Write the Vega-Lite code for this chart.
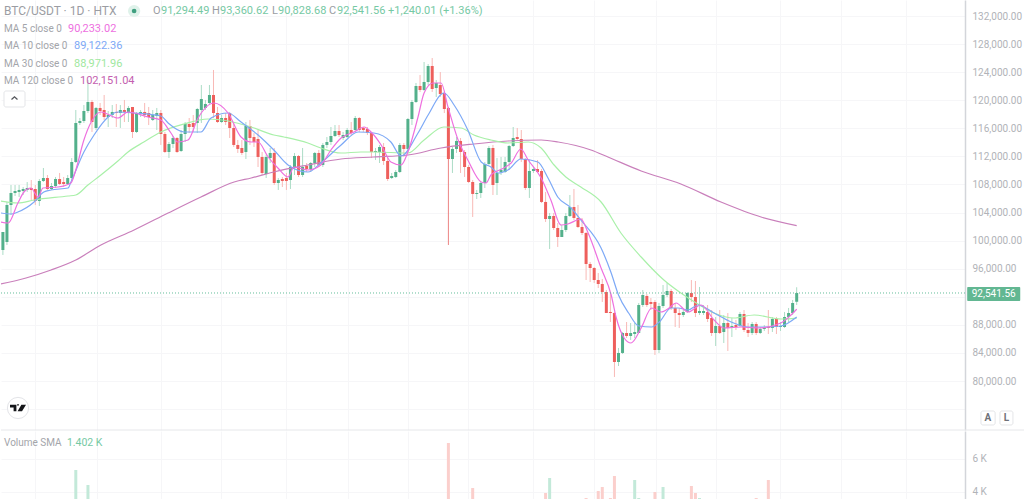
{
"$schema":"https://vega.github.io/schema/vega-lite/v6.json",
"description":"BTC/USDT daily candles with moving averages and volume",
"padding":0,
"spacing":0,
"background":"white",
"resolve":{"scale":{"color":"independent"}},
"config":{"view":{"stroke":null},"text":{"font":"Roboto"},"axis":{"labelFont":"Roboto"}},
"datasets":{
"candles":[
{"t":0,"o":98670,"h":101230,"l":97960,"c":101230},{"t":1,"o":99810,"h":105510,"l":99380,"c":105080},{"t":2,"o":105080,"h":107930,"l":103650,"c":106790},{"t":3,"o":106790,"h":107930,"l":106360,"c":107070},{"t":4,"o":106930,"h":107930,"l":106220,"c":107220},{"t":5,"o":107070,"h":107640,"l":106500,"c":107360},{"t":6,"o":107220,"h":108350,"l":106930,"c":107500},{"t":7,"o":107500,"h":108640,"l":105790,"c":107220},{"t":8,"o":107360,"h":107930,"l":105080,"c":105650},{"t":9,"o":105650,"h":108780,"l":104940,"c":108500},
{"t":10,"o":108500,"h":110350,"l":108350,"c":108920},{"t":11,"o":108920,"h":109350,"l":107220,"c":107360},{"t":12,"o":107360,"h":108210,"l":107220,"c":107780},{"t":13,"o":107780,"h":109070,"l":107500,"c":108780},{"t":14,"o":108780,"h":109640,"l":107930,"c":108070},{"t":15,"o":108350,"h":109070,"l":107640,"c":108070},{"t":16,"o":108070,"h":109350,"l":107930,"c":108920},{"t":17,"o":108920,"h":111770,"l":108640,"c":111200},{"t":18,"o":111200,"h":118610,"l":111060,"c":116760},{"t":19,"o":116760,"h":117470,"l":116470,"c":117040},
{"t":20,"o":117040,"h":119320,"l":116760,"c":118470},{"t":21,"o":118470,"h":122880,"l":118180,"c":119750},{"t":22,"o":119750,"h":120040,"l":115480,"c":116900},{"t":23,"o":116050,"h":119040,"l":115760,"c":118900},{"t":24,"o":118900,"h":119610,"l":117900,"c":118470},{"t":25,"o":118610,"h":120750,"l":117190,"c":117610},{"t":26,"o":117610,"h":118470,"l":116190,"c":117900},{"t":27,"o":117900,"h":119320,"l":117470,"c":118330},{"t":28,"o":118330,"h":119470,"l":116190,"c":118180},{"t":29,"o":118180,"h":119320,"l":116050,"c":118610},
{"t":30,"o":118610,"h":120040,"l":116900,"c":118330},{"t":31,"o":118330,"h":119180,"l":116900,"c":118900},{"t":32,"o":119040,"h":119040,"l":114620,"c":115480},{"t":33,"o":115480,"h":118330,"l":115330,"c":118180},{"t":34,"o":118040,"h":118610,"l":117610,"c":118330},{"t":35,"o":118330,"h":119610,"l":117470,"c":117900},{"t":36,"o":118180,"h":119040,"l":116470,"c":117610},{"t":37,"o":117190,"h":118610,"l":117040,"c":117900},{"t":38,"o":117760,"h":118900,"l":115760,"c":118180},{"t":39,"o":118180,"h":118610,"l":113630,"c":115190},
{"t":40,"o":115190,"h":115480,"l":112490,"c":112630},{"t":41,"o":112630,"h":114050,"l":111770,"c":113770},{"t":42,"o":113770,"h":114910,"l":113200,"c":114620},{"t":43,"o":114620,"h":114760,"l":112490,"c":112630},{"t":44,"o":112770,"h":115760,"l":112630,"c":115190},{"t":45,"o":115190,"h":116900,"l":114050,"c":116620},{"t":46,"o":116620,"h":117470,"l":115330,"c":116190},{"t":47,"o":116760,"h":117900,"l":115480,"c":116190},{"t":48,"o":116760,"h":118900,"l":115330,"c":118750},{"t":49,"o":118610,"h":122170,"l":116760,"c":120180},
{"t":50,"o":118900,"h":120040,"l":118610,"c":119470},{"t":51,"o":119610,"h":122170,"l":119320,"c":120750},{"t":52,"o":120750,"h":124310,"l":117470,"c":118180},{"t":53,"o":118180,"h":119040,"l":116760,"c":116900},{"t":54,"o":116900,"h":117900,"l":116760,"c":117470},{"t":55,"o":117470,"h":118180,"l":116470,"c":116900},{"t":56,"o":118180,"h":118330,"l":114620,"c":116050},{"t":57,"o":116050,"h":116760,"l":113340,"c":113630},{"t":58,"o":113630,"h":114340,"l":112490,"c":113060},{"t":59,"o":113200,"h":114340,"l":112200,"c":112490},
{"t":60,"o":112630,"h":116900,"l":111630,"c":116330},{"t":61,"o":116330,"h":117190,"l":113630,"c":114620},{"t":62,"o":114760,"h":115330,"l":113340,"c":114050},{"t":63,"o":114480,"h":115760,"l":110490,"c":111920},{"t":64,"o":111920,"h":112630,"l":109350,"c":109640},{"t":65,"o":109490,"h":112200,"l":108920,"c":111920},{"t":66,"o":111770,"h":113200,"l":111060,"c":112490},{"t":67,"o":112490,"h":113200,"l":107930,"c":108210},{"t":68,"o":108210,"h":108920,"l":107220,"c":108640},{"t":69,"o":108780,"h":109070,"l":107640,"c":108500},
{"t":70,"o":108920,"h":109640,"l":107220,"c":108500},{"t":71,"o":108640,"h":110780,"l":107360,"c":110490},{"t":72,"o":110490,"h":112490,"l":109350,"c":112060},{"t":73,"o":112060,"h":112200,"l":109070,"c":109350},{"t":74,"o":109350,"h":113200,"l":109070,"c":110490},{"t":75,"o":110630,"h":111060,"l":109780,"c":110210},{"t":76,"o":110210,"h":111200,"l":109780,"c":111060},{"t":77,"o":111060,"h":112630,"l":110490,"c":112490},{"t":78,"o":112490,"h":112910,"l":110490,"c":110780},{"t":79,"o":110780,"h":113910,"l":110490,"c":113630},
{"t":80,"o":113630,"h":114760,"l":113200,"c":114050},{"t":81,"o":114050,"h":116190,"l":113630,"c":114910},{"t":82,"o":114910,"h":116470,"l":114760,"c":115620},{"t":83,"o":115620,"h":116470,"l":114760,"c":115050},{"t":84,"o":114620,"h":115480,"l":114340,"c":115050},{"t":85,"o":114760,"h":116050,"l":114620,"c":115760},{"t":86,"o":115760,"h":116900,"l":115050,"c":115330},{"t":87,"o":115760,"h":117760,"l":115480,"c":117470},{"t":88,"o":117470,"h":117610,"l":115480,"c":115760},{"t":89,"o":116050,"h":116190,"l":115480,"c":115760},
{"t":90,"o":115900,"h":116190,"l":115050,"c":115330},{"t":91,"o":115330,"h":115480,"l":111770,"c":112630},{"t":92,"o":112630,"h":113200,"l":111490,"c":112770},{"t":93,"o":112630,"h":113630,"l":111060,"c":113340},{"t":94,"o":113340,"h":113910,"l":110780,"c":111350},{"t":95,"o":111350,"h":111770,"l":108500,"c":108780},{"t":96,"o":108920,"h":109640,"l":108780,"c":109210},{"t":97,"o":109070,"h":110060,"l":108920,"c":109780},{"t":98,"o":109780,"h":113910,"l":109640,"c":113630},{"t":99,"o":113630,"h":113910,"l":111920,"c":113060},
{"t":100,"o":113060,"h":117470,"l":112630,"c":117330},{"t":101,"o":117330,"h":120040,"l":116470,"c":119750},{"t":102,"o":119750,"h":122460,"l":119610,"c":122030},{"t":103,"o":122030,"h":123600,"l":121180,"c":121460},{"t":104,"o":121460,"h":125450,"l":121320,"c":122600},{"t":105,"o":122600,"h":125160,"l":122170,"c":124880},{"t":106,"o":124880,"h":126020,"l":121180,"c":121600},{"t":107,"o":121740,"h":122880,"l":120460,"c":122460},{"t":108,"o":122170,"h":124020,"l":120460,"c":120890},{"t":109,"o":121030,"h":121180,"l":118180,"c":118750},
{"t":110,"o":118900,"h":119040,"l":99380,"c":111630},{"t":111,"o":111630,"h":113340,"l":109640,"c":113060},{"t":112,"o":113060,"h":114760,"l":112490,"c":114200},{"t":113,"o":114200,"h":114620,"l":109640,"c":112630},{"t":114,"o":112630,"h":112910,"l":109070,"c":110490},{"t":115,"o":110490,"h":110780,"l":108210,"c":108350},{"t":116,"o":108350,"h":108640,"l":103370,"c":106650},{"t":117,"o":106650,"h":107220,"l":105930,"c":106790},{"t":118,"o":106790,"h":108350,"l":106080,"c":108210},{"t":119,"o":108210,"h":111200,"l":107500,"c":110920},
{"t":120,"o":110920,"h":113480,"l":110780,"c":113200},{"t":121,"o":113200,"h":113630,"l":106500,"c":107930},{"t":122,"o":108210,"h":111770,"l":106500,"c":109640},{"t":123,"o":109780,"h":111920,"l":109350,"c":110060},{"t":124,"o":109780,"h":111920,"l":109640,"c":111200},{"t":125,"o":111200,"h":113630,"l":110060,"c":113480},{"t":126,"o":113480,"h":116190,"l":113340,"c":114620},{"t":127,"o":114760,"h":116050,"l":114340,"c":114480},{"t":128,"o":114480,"h":115760,"l":111200,"c":111630},{"t":129,"o":111630,"h":111770,"l":107220,"c":107500},
{"t":130,"o":107500,"h":111490,"l":106080,"c":109920},{"t":131,"o":109920,"h":110490,"l":109640,"c":110210},{"t":132,"o":110210,"h":111490,"l":109640,"c":109780},{"t":133,"o":109920,"h":110210,"l":105360,"c":105510},{"t":134,"o":105510,"h":106930,"l":102660,"c":103080},{"t":135,"o":103080,"h":103940,"l":98810,"c":103510},{"t":136,"o":103510,"h":103940,"l":101520,"c":101800},{"t":137,"o":101800,"h":102510,"l":99100,"c":100520},{"t":138,"o":100520,"h":102230,"l":100520,"c":101520},{"t":139,"o":101520,"h":103940,"l":101230,"c":103510},
{"t":140,"o":103510,"h":106500,"l":103370,"c":104790},{"t":141,"o":104790,"h":107360,"l":102940,"c":103230},{"t":142,"o":103230,"h":105080,"l":101800,"c":101940},{"t":143,"o":101940,"h":103230,"l":100800,"c":101090},{"t":144,"o":101090,"h":101230,"l":94390,"c":96670},{"t":145,"o":96670,"h":96960,"l":94110,"c":96100},{"t":146,"o":96100,"h":96240,"l":93970,"c":94390},{"t":147,"o":94390,"h":95390,"l":93250,"c":93820},{"t":148,"o":93820,"h":94540,"l":91260,"c":92680},{"t":149,"o":92680,"h":92970,"l":89690,"c":89690},
{"t":150,"o":89840,"h":92680,"l":88410,"c":89690},{"t":151,"o":89690,"h":89840,"l":80580,"c":82710},{"t":152,"o":82710,"h":84710,"l":82140,"c":84000},{"t":153,"o":84000,"h":86990,"l":83850,"c":86840},{"t":154,"o":86840,"h":88410,"l":86130,"c":86420},{"t":155,"o":86420,"h":88270,"l":85850,"c":86840},{"t":156,"o":86700,"h":88270,"l":86130,"c":86990},{"t":157,"o":86840,"h":91120,"l":86840,"c":90830},{"t":158,"o":90830,"h":92970,"l":90550,"c":92260},{"t":159,"o":92120,"h":92400,"l":90550,"c":90830},
{"t":160,"o":91260,"h":91830,"l":90120,"c":90980},{"t":161,"o":91260,"h":91550,"l":83710,"c":84420},{"t":162,"o":84420,"h":91120,"l":84000,"c":90690},{"t":163,"o":90690,"h":93680,"l":90410,"c":92260},{"t":164,"o":92260,"h":93970,"l":91970,"c":92830},{"t":165,"o":92830,"h":93110,"l":90120,"c":90410},{"t":166,"o":90410,"h":91120,"l":87700,"c":89690},{"t":167,"o":89690,"h":90410,"l":87560,"c":89410},{"t":168,"o":89410,"h":90120,"l":89120,"c":89840},{"t":169,"o":89840,"h":92680,"l":89690,"c":92540},
{"t":170,"o":92540,"h":94390,"l":91260,"c":91970},{"t":171,"o":91970,"h":94250,"l":89120,"c":89690},{"t":172,"o":89690,"h":93400,"l":89410,"c":89980},{"t":173,"o":89690,"h":90830,"l":89410,"c":89980},{"t":174,"o":89840,"h":90830,"l":88410,"c":88840},{"t":175,"o":88980,"h":90120,"l":86420,"c":86840},{"t":176,"o":86840,"h":89120,"l":84990,"c":87840},{"t":177,"o":87840,"h":90120,"l":86700,"c":86840},{"t":178,"o":86990,"h":89410,"l":85420,"c":88270},{"t":179,"o":88270,"h":89690,"l":84280,"c":87560},
{"t":180,"o":87700,"h":88980,"l":86270,"c":87840},{"t":181,"o":87980,"h":88700,"l":87270,"c":87700},{"t":182,"o":87840,"h":89840,"l":87700,"c":89550},{"t":183,"o":89550,"h":90120,"l":86990,"c":87270},{"t":184,"o":87270,"h":88270,"l":86270,"c":86840},{"t":185,"o":86840,"h":88410,"l":86560,"c":88130},{"t":186,"o":88130,"h":88410,"l":86560,"c":86840},{"t":187,"o":86840,"h":87700,"l":86700,"c":87410},{"t":188,"o":87410,"h":87980,"l":87130,"c":87700},{"t":189,"o":87700,"h":90120,"l":86700,"c":87560},
{"t":190,"o":87560,"h":89120,"l":86990,"c":88840},{"t":191,"o":88840,"h":89120,"l":86700,"c":87700},{"t":192,"o":87700,"h":88410,"l":87130,"c":87840},{"t":193,"o":87700,"h":89840,"l":87560,"c":89120},{"t":194,"o":89120,"h":90410,"l":88410,"c":89690},{"t":195,"o":89690,"h":91550,"l":89410,"c":91120},{"t":196,"o":91294,"h":93361,"l":90829,"c":92542}
],
"ma":[
{"t":-0.5,"ma":"MA 120","v":93824},{"t":5.7,"ma":"MA 120","v":94679},{"t":11.9,"ma":"MA 120","v":95819},{"t":18,"ma":"MA 120","v":97243},{"t":24.2,"ma":"MA 120","v":99380},{"t":32.4,"ma":"MA 120","v":101517},{"t":40.8,"ma":"MA 120","v":103938},{"t":48.9,"ma":"MA 120","v":106217},{"t":57.1,"ma":"MA 120","v":108354},{"t":61.3,"ma":"MA 120","v":108924},{"t":66.9,"ma":"MA 120","v":109779},{"t":75.3,"ma":"MA 120","v":110776},{"t":83.5,"ma":"MA 120","v":111630},{"t":91.6,"ma":"MA 120","v":111916},{"t":100,"ma":"MA 120","v":112200},{"t":108.2,"ma":"MA 120","v":113198},{"t":116.3,"ma":"MA 120","v":113767},{"t":124.7,"ma":"MA 120","v":114195},{"t":132.9,"ma":"MA 120","v":114337},{"t":137.1,"ma":"MA 120","v":114052},{"t":145.2,"ma":"MA 120","v":112913},{"t":149.4,"ma":"MA 120","v":111916},{"t":157.6,"ma":"MA 120","v":109921},{"t":167.4,"ma":"MA 120","v":108069},{"t":177.3,"ma":"MA 120","v":105505},{"t":187.2,"ma":"MA 120","v":103368},{"t":196,"ma":"MA 120","v":102151},
{"t":-0.5,"ma":"MA 30","v":105648},{"t":3.7,"ma":"MA 30","v":105363},{"t":7.7,"ma":"MA 30","v":105790},{"t":16.1,"ma":"MA 30","v":106360},{"t":18,"ma":"MA 30","v":106502},{"t":21,"ma":"MA 30","v":107927},{"t":24.2,"ma":"MA 30","v":109351},{"t":28.4,"ma":"MA 30","v":111346},{"t":30.9,"ma":"MA 30","v":112628},{"t":34.8,"ma":"MA 30","v":114052},{"t":39,"ma":"MA 30","v":115477},{"t":44.7,"ma":"MA 30","v":116616},{"t":50.6,"ma":"MA 30","v":117328},{"t":55.6,"ma":"MA 30","v":117043},{"t":61.3,"ma":"MA 30","v":116189},{"t":66.9,"ma":"MA 30","v":115049},{"t":69.4,"ma":"MA 30","v":114764},{"t":75.3,"ma":"MA 30","v":113910},{"t":78.5,"ma":"MA 30","v":113198},{"t":83.5,"ma":"MA 30","v":112485},{"t":88.4,"ma":"MA 30","v":112628},{"t":91.6,"ma":"MA 30","v":112628},{"t":100,"ma":"MA 30","v":112485},{"t":104,"ma":"MA 30","v":114337},{"t":108.9,"ma":"MA 30","v":116189},{"t":113.1,"ma":"MA 30","v":116046},{"t":116.3,"ma":"MA 30","v":115049},{"t":120.5,"ma":"MA 30","v":114337},{"t":124.7,"ma":"MA 30","v":113910},{"t":129.7,"ma":"MA 30","v":114052},{"t":132.9,"ma":"MA 30","v":113198},{"t":136.1,"ma":"MA 30","v":110776},{"t":139,"ma":"MA 30","v":109066},{"t":142.7,"ma":"MA 30","v":107642},{"t":147.7,"ma":"MA 30","v":105505},{"t":152.6,"ma":"MA 30","v":101089},{"t":157.6,"ma":"MA 30","v":97670},{"t":163.2,"ma":"MA 30","v":94394},{"t":167.4,"ma":"MA 30","v":92542},{"t":171.6,"ma":"MA 30","v":90975},{"t":175.6,"ma":"MA 30","v":89693},{"t":180.5,"ma":"MA 30","v":88981},{"t":185.5,"ma":"MA 30","v":89408},{"t":192.1,"ma":"MA 30","v":88838},{"t":196,"ma":"MA 30","v":88972},
{"t":-0.5,"ma":"MA 10","v":103938},{"t":2,"ma":"MA 10","v":103796},{"t":3.7,"ma":"MA 10","v":104081},{"t":7.7,"ma":"MA 10","v":105505},{"t":10.1,"ma":"MA 10","v":106930},{"t":11.9,"ma":"MA 10","v":107215},{"t":16.1,"ma":"MA 10","v":107499},{"t":16.8,"ma":"MA 10","v":108354},{"t":20,"ma":"MA 10","v":112628},{"t":22.5,"ma":"MA 10","v":115049},{"t":26,"ma":"MA 10","v":117613},{"t":28.4,"ma":"MA 10","v":118326},{"t":32.4,"ma":"MA 10","v":118183},{"t":39,"ma":"MA 10","v":117756},{"t":40.8,"ma":"MA 10","v":116758},{"t":44.7,"ma":"MA 10","v":115477},{"t":48.9,"ma":"MA 10","v":115477},{"t":51.4,"ma":"MA 10","v":117471},{"t":55.6,"ma":"MA 10","v":118183},{"t":58.8,"ma":"MA 10","v":116901},{"t":63,"ma":"MA 10","v":115049},{"t":66.9,"ma":"MA 10","v":112913},{"t":70.4,"ma":"MA 10","v":110776},{"t":75.3,"ma":"MA 10","v":109779},{"t":78.5,"ma":"MA 10","v":111061},{"t":83.5,"ma":"MA 10","v":113625},{"t":87.7,"ma":"MA 10","v":115477},{"t":91.6,"ma":"MA 10","v":115334},{"t":95.8,"ma":"MA 10","v":114052},{"t":98.3,"ma":"MA 10","v":112058},{"t":102.5,"ma":"MA 10","v":115334},{"t":105,"ma":"MA 10","v":117898},{"t":108.9,"ma":"MA 10","v":121032},{"t":111.4,"ma":"MA 10","v":119323},{"t":114.8,"ma":"MA 10","v":115762},{"t":118.1,"ma":"MA 10","v":111203},{"t":120.5,"ma":"MA 10","v":110491},{"t":122.3,"ma":"MA 10","v":109636},{"t":124.7,"ma":"MA 10","v":110064},{"t":127.9,"ma":"MA 10","v":111631},{"t":132.1,"ma":"MA 10","v":111203},{"t":134.6,"ma":"MA 10","v":108924},{"t":137,"ma":"MA 10","v":106217},{"t":140.3,"ma":"MA 10","v":104650},{"t":142.7,"ma":"MA 10","v":102941},{"t":147.7,"ma":"MA 10","v":98953},{"t":150.2,"ma":"MA 10","v":95391},{"t":152,"ma":"MA 10","v":92257},{"t":154.5,"ma":"MA 10","v":89693},{"t":157,"ma":"MA 10","v":87841},{"t":160.2,"ma":"MA 10","v":87699},{"t":162.1,"ma":"MA 10","v":88411},{"t":165,"ma":"MA 10","v":90405},{"t":166.7,"ma":"MA 10","v":90405},{"t":169.2,"ma":"MA 10","v":90121},{"t":171.6,"ma":"MA 10","v":90833},{"t":175.6,"ma":"MA 10","v":89693},{"t":179.8,"ma":"MA 10","v":88411},{"t":184,"ma":"MA 10","v":87699},{"t":188,"ma":"MA 10","v":87699},{"t":192.1,"ma":"MA 10","v":87841},{"t":196,"ma":"MA 10","v":89122},
{"t":-0.5,"ma":"MA 5","v":102656},{"t":1.3,"ma":"MA 5","v":102514},{"t":3.7,"ma":"MA 5","v":105363},{"t":5.2,"ma":"MA 5","v":106930},{"t":6.9,"ma":"MA 5","v":107499},{"t":8.7,"ma":"MA 5","v":106217},{"t":9.9,"ma":"MA 5","v":107499},{"t":13.6,"ma":"MA 5","v":107642},{"t":16.8,"ma":"MA 5","v":108212},{"t":18,"ma":"MA 5","v":110064},{"t":20,"ma":"MA 5","v":114337},{"t":21.8,"ma":"MA 5","v":116901},{"t":24.2,"ma":"MA 5","v":118326},{"t":28.4,"ma":"MA 5","v":117471},{"t":30.9,"ma":"MA 5","v":118326},{"t":35.8,"ma":"MA 5","v":117613},{"t":39,"ma":"MA 5","v":117186},{"t":41.5,"ma":"MA 5","v":115334},{"t":43.2,"ma":"MA 5","v":114052},{"t":45.7,"ma":"MA 5","v":114337},{"t":48.2,"ma":"MA 5","v":117471},{"t":52.1,"ma":"MA 5","v":119608},{"t":55.6,"ma":"MA 5","v":118183},{"t":58.8,"ma":"MA 5","v":114764},{"t":61.3,"ma":"MA 5","v":114052},{"t":63,"ma":"MA 5","v":114052},{"t":65.5,"ma":"MA 5","v":111916},{"t":67.9,"ma":"MA 5","v":110348},{"t":70.4,"ma":"MA 5","v":109066},{"t":71.9,"ma":"MA 5","v":110491},{"t":75.3,"ma":"MA 5","v":110064},{"t":78.5,"ma":"MA 5","v":110776},{"t":81,"ma":"MA 5","v":112913},{"t":83.5,"ma":"MA 5","v":114622},{"t":86.7,"ma":"MA 5","v":115477},{"t":89.2,"ma":"MA 5","v":116189},{"t":90.9,"ma":"MA 5","v":115477},{"t":93.4,"ma":"MA 5","v":113625},{"t":95.8,"ma":"MA 5","v":111203},{"t":98.3,"ma":"MA 5","v":110776},{"t":100,"ma":"MA 5","v":112628},{"t":102.5,"ma":"MA 5","v":117613},{"t":104,"ma":"MA 5","v":121032},{"t":106.2,"ma":"MA 5","v":122456},{"t":108.2,"ma":"MA 5","v":122456},{"t":109.9,"ma":"MA 5","v":119038},{"t":112.4,"ma":"MA 5","v":114337},{"t":114.8,"ma":"MA 5","v":111488},{"t":118.1,"ma":"MA 5","v":108354},{"t":119.3,"ma":"MA 5","v":108212},{"t":120.5,"ma":"MA 5","v":109351},{"t":123.7,"ma":"MA 5","v":110348},{"t":125.5,"ma":"MA 5","v":111061},{"t":127.9,"ma":"MA 5","v":113055},{"t":129.7,"ma":"MA 5","v":111488},{"t":132.9,"ma":"MA 5","v":108924},{"t":135.3,"ma":"MA 5","v":105790},{"t":137.8,"ma":"MA 5","v":102229},{"t":139.5,"ma":"MA 5","v":102371},{"t":142.7,"ma":"MA 5","v":103084},{"t":144.5,"ma":"MA 5","v":101089},{"t":147.7,"ma":"MA 5","v":96103},{"t":150.2,"ma":"MA 5","v":92257},{"t":151.4,"ma":"MA 5","v":89123},{"t":153.4,"ma":"MA 5","v":86132},{"t":155.1,"ma":"MA 5","v":85420},{"t":157.6,"ma":"MA 5","v":87557},{"t":160.2,"ma":"MA 5","v":90405},{"t":162.5,"ma":"MA 5","v":89836},{"t":164.5,"ma":"MA 5","v":90405},{"t":166.2,"ma":"MA 5","v":91117},{"t":169.2,"ma":"MA 5","v":89836},{"t":172.4,"ma":"MA 5","v":90833},{"t":175.6,"ma":"MA 5","v":88696},{"t":178.1,"ma":"MA 5","v":87557},{"t":182.3,"ma":"MA 5","v":87699},{"t":186.5,"ma":"MA 5","v":87557},{"t":192.1,"ma":"MA 5","v":88267},{"t":194.6,"ma":"MA 5","v":89408},{"t":196,"ma":"MA 5","v":90233}
],
"volume":[
{"t":18,"v":5333,"dir":"up"},{"t":21,"v":4424,"dir":"up"},{"t":64,"v":3576,"dir":"down"},{"t":110,"v":6970,"dir":"down"},{"t":116,"v":4242,"dir":"down"},{"t":134,"v":3940,"dir":"down"},{"t":135,"v":4848,"dir":"up"},{"t":144,"v":3636,"dir":"down"},{"t":147,"v":4060,"dir":"down"},{"t":148,"v":4303,"dir":"down"},{"t":150,"v":3636,"dir":"down"},{"t":151,"v":4970,"dir":"down"},{"t":156,"v":4727,"dir":"up"},{"t":157,"v":3636,"dir":"up"},{"t":161,"v":4000,"dir":"down"},{"t":163,"v":4303,"dir":"up"},{"t":170,"v":4364,"dir":"down"},{"t":171,"v":3940,"dir":"down"},{"t":172,"v":3636,"dir":"up"},{"t":186,"v":3636,"dir":"down"},{"t":189,"v":4727,"dir":"down"},{"t":190,"v":3576,"dir":"up"}
]
},
"vconcat":[
{
"width":964,"height":430,
"layer":[
{"data":{"name":"candles"},"mark":{"type":"rule","strokeWidth":1},
"encoding":{
"x":{"field":"t","type":"quantitative","scale":{"domain":[-0.469,237.56],"nice":false,"zero":false,"padding":0},
"axis":{"values":[7.9,23.2,39,53.9,69.9,85.2,100,114.8,130.9,146,161.3,176.1,191.9,207,223],"tickCount":15,"labels":false,"ticks":false,"domain":false,"grid":true,"gridColor":"#f6f6f8","title":null}},
"y":{"field":"l","type":"quantitative","scale":{"domain":[73026,134280],"nice":false,"zero":false},
"axis":{"orient":"right","values":[76000,80000,84000,88000,92000,96000,100000,104000,108000,112000,116000,120000,124000,128000,132000],"tickCount":15,"labelExpr":"datum.value==92000||datum.value==76000?'':format(datum.value,',.2f')","labelOverlap":false,"labelBound":false,"labelFlush":false,"title":null,"ticks":false,"grid":true,"gridColor":"#f6f6f8","domainColor":"#d3d5da","domainWidth":1.5,"labelColor":"#b1b3b8","labelFontSize":10,"labelPadding":7}},
"y2":{"field":"h"},
"color":{"condition":[{"test":"datum.t==110","value":"#ec8583"},{"test":"datum.c>=datum.o","value":"#acdcc6"}],"value":"#f8b9b6"}}},
{"data":{"name":"candles"},"mark":{"type":"bar","size":3},
"encoding":{
"x":{"field":"t","type":"quantitative"},
"y":{"field":"o","type":"quantitative"},
"y2":{"field":"c"},
"color":{"condition":{"test":"datum.c>=datum.o","value":"#53b08b"},"value":"#ee5f5c"}}},
{"data":{"name":"ma"},"mark":{"type":"line","strokeWidth":1.2,"interpolate":"monotone","clip":true},
"encoding":{
"x":{"field":"t","type":"quantitative"},
"y":{"field":"v","type":"quantitative"},
"order":{"field":"t"},
"color":{"field":"ma","type":"nominal","legend":null,"scale":{"domain":["MA 5","MA 10","MA 30","MA 120"],"range":["#ee70df","#7da9f6","#a9f0a9","#c97fbb"]}}}},
{"data":{"values":[{}]},
"layer":[
{"mark":{"type":"rule","color":"#64bd9b","strokeDash":[1,2],"strokeWidth":1},"encoding":{"y":{"datum":92542,"type":"quantitative"}}},
{"mark":{"type":"rect","fill":"#62b792","cornerRadius":1},"encoding":{"x":{"datum":238.1,"type":"quantitative"},"x2":{"datum":251.2},"y":{"datum":93397,"type":"quantitative"},"y2":{"datum":91402}}},
{"mark":{"type":"text","color":"white","fontSize":10},"encoding":{"x":{"datum":244.65,"type":"quantitative"},"y":{"datum":92400,"type":"quantitative"},"text":{"value":"92,541.56"}}},
{"mark":{"type":"rule","color":"#e6e7ea","strokeWidth":1},"encoding":{"x":{"datum":-0.469,"type":"quantitative"},"x2":{"datum":252.37},"y":{"datum":73026,"type":"quantitative"}}},
{"mark":{"type":"rect","fill":"white","stroke":"#e4e5e8","cornerRadius":2},"encoding":{"x":{"datum":241.5,"type":"quantitative"},"x2":{"datum":245},"y":{"datum":75733,"type":"quantitative"},"y2":{"datum":73739}}},
{"mark":{"type":"rect","fill":"white","stroke":"#e4e5e8","cornerRadius":2},"encoding":{"x":{"datum":246.2,"type":"quantitative"},"x2":{"datum":249.4},"y":{"datum":75733,"type":"quantitative"},"y2":{"datum":73739}}},
{"mark":{"type":"text","color":"#6f7178","fontSize":10,"fontWeight":"bold"},"encoding":{"x":{"datum":243.2,"type":"quantitative"},"y":{"datum":74736,"type":"quantitative"},"text":{"value":"A"}}},
{"mark":{"type":"text","color":"#6f7178","fontSize":10,"fontWeight":"bold"},"encoding":{"x":{"datum":247.8,"type":"quantitative"},"y":{"datum":74736,"type":"quantitative"},"text":{"value":"L"}}},
{"mark":{"type":"point","filled":true,"color":"white","fill":"white","stroke":"#e3e4e8","strokeWidth":1,"opacity":1,"strokeOpacity":1,"fillOpacity":1,"shape":"circle","size":452},"encoding":{"x":{"datum":3.73,"type":"quantitative"},"y":{"datum":76160,"type":"quantitative"}}},
{"mark":{"type":"point","filled":true,"fill":"#15161a","opacity":1,"size":256,"shape":"M-1 -0.4H-0.2V0.4H-0.55V-0.05H-1Z M0.42 -0.4H1L0.5 0.4H-0.05Z"},"encoding":{"x":{"datum":3.73,"type":"quantitative"},"y":{"datum":76160,"type":"quantitative"}}},
{"mark":{"type":"point","filled":true,"fill":"#15161a","opacity":1,"size":3,"shape":"circle"},"encoding":{"x":{"datum":3.73,"type":"quantitative"},"y":{"datum":76620,"type":"quantitative"}}},
{"mark":{"type":"rect","fill":"white","stroke":"#e4e5e8","cornerRadius":2},"encoding":{"x":{"datum":0.27,"type":"quantitative"},"x2":{"datum":5.46},"y":{"datum":121317,"type":"quantitative"},"y2":{"datum":119038}}},
{"mark":{"type":"point","filled":false,"stroke":"#55575c","strokeWidth":1.3,"opacity":1,"size":36,"shape":"M-1 0.5L0 -0.4L1 0.5"},"encoding":{"x":{"datum":2.86,"type":"quantitative"},"y":{"datum":120320,"type":"quantitative"}}},
{"mark":{"type":"point","filled":true,"fill":"#dff2ea","opacity":1,"size":150,"shape":"circle"},"encoding":{"x":{"datum":32.4,"type":"quantitative"},"y":{"datum":132713,"type":"quantitative"}}},
{"mark":{"type":"point","filled":true,"fill":"#3f9f7f","opacity":1,"size":22,"shape":"circle"},"encoding":{"x":{"datum":32.4,"type":"quantitative"},"y":{"datum":132713,"type":"quantitative"}}},
{"mark":{"type":"text","align":"left","color":"#9b9da3","fontSize":12},"encoding":{"x":{"datum":0.27,"type":"quantitative"},"y":{"datum":132713,"type":"quantitative"},"text":{"value":"BTC/USDT · 1D · HTX"}}},
{"mark":{"type":"text","align":"left","color":"#9b9da3","fontSize":11},"encoding":{"x":{"datum":37.06,"type":"quantitative"},"y":{"datum":132713,"type":"quantitative"},"text":{"value":"O"}}},
{"mark":{"type":"text","align":"left","color":"#76c9a4","fontSize":11},"encoding":{"x":{"datum":39.04,"type":"quantitative"},"y":{"datum":132713,"type":"quantitative"},"text":{"value":"91,294.49"}}},
{"mark":{"type":"text","align":"left","color":"#9b9da3","fontSize":11},"encoding":{"x":{"datum":51.63,"type":"quantitative"},"y":{"datum":132713,"type":"quantitative"},"text":{"value":"H"}}},
{"mark":{"type":"text","align":"left","color":"#76c9a4","fontSize":11},"encoding":{"x":{"datum":53.6,"type":"quantitative"},"y":{"datum":132713,"type":"quantitative"},"text":{"value":"93,360.62"}}},
{"mark":{"type":"text","align":"left","color":"#9b9da3","fontSize":11},"encoding":{"x":{"datum":66.44,"type":"quantitative"},"y":{"datum":132713,"type":"quantitative"},"text":{"value":"L"}}},
{"mark":{"type":"text","align":"left","color":"#76c9a4","fontSize":11},"encoding":{"x":{"datum":67.93,"type":"quantitative"},"y":{"datum":132713,"type":"quantitative"},"text":{"value":"90,828.68"}}},
{"mark":{"type":"text","align":"left","color":"#9b9da3","fontSize":11},"encoding":{"x":{"datum":80.52,"type":"quantitative"},"y":{"datum":132713,"type":"quantitative"},"text":{"value":"C"}}},
{"mark":{"type":"text","align":"left","color":"#76c9a4","fontSize":11},"encoding":{"x":{"datum":82.5,"type":"quantitative"},"y":{"datum":132713,"type":"quantitative"},"text":{"value":"92,541.56"}}},
{"mark":{"type":"text","align":"left","color":"#76c9a4","fontSize":11},"encoding":{"x":{"datum":95.1,"type":"quantitative"},"y":{"datum":132713,"type":"quantitative"},"text":{"value":"+1,240.01 (+1.36%)"}}},
{"mark":{"type":"text","align":"left","color":"#a3a5aa","fontSize":10},"encoding":{"x":{"datum":0.27,"type":"quantitative"},"y":{"datum":130149,"type":"quantitative"},"text":{"value":"MA 5 close 0"}}},
{"mark":{"type":"text","align":"left","color":"#ee70df","fontSize":11},"encoding":{"x":{"datum":16.07,"type":"quantitative"},"y":{"datum":130149,"type":"quantitative"},"text":{"value":"90,233.02"}}},
{"mark":{"type":"text","align":"left","color":"#a3a5aa","fontSize":10},"encoding":{"x":{"datum":0.27,"type":"quantitative"},"y":{"datum":127727,"type":"quantitative"},"text":{"value":"MA 10 close 0"}}},
{"mark":{"type":"text","align":"left","color":"#7da9f6","fontSize":11},"encoding":{"x":{"datum":17.56,"type":"quantitative"},"y":{"datum":127727,"type":"quantitative"},"text":{"value":"89,122.36"}}},
{"mark":{"type":"text","align":"left","color":"#a3a5aa","fontSize":10},"encoding":{"x":{"datum":0.27,"type":"quantitative"},"y":{"datum":125163,"type":"quantitative"},"text":{"value":"MA 30 close 0"}}},
{"mark":{"type":"text","align":"left","color":"#9fe8a0","fontSize":11},"encoding":{"x":{"datum":17.56,"type":"quantitative"},"y":{"datum":125163,"type":"quantitative"},"text":{"value":"88,971.96"}}},
{"mark":{"type":"text","align":"left","color":"#a3a5aa","fontSize":10},"encoding":{"x":{"datum":0.27,"type":"quantitative"},"y":{"datum":122741,"type":"quantitative"},"text":{"value":"MA 120 close 0"}}},
{"mark":{"type":"text","align":"left","color":"#c45fb0","fontSize":11},"encoding":{"x":{"datum":19.04,"type":"quantitative"},"y":{"datum":122741,"type":"quantitative"},"text":{"value":"102,151.04"}}}
]}
]
},
{
"width":964,"height":69,
"layer":[
{"data":{"name":"volume"},"mark":{"type":"bar","size":3,"clip":true},
"encoding":{
"x":{"field":"t","type":"quantitative","scale":{"domain":[-0.469,237.56],"nice":false,"zero":false,"padding":0},
"axis":{"values":[7.9,23.2,39,53.9,69.9,85.2,100,114.8,130.9,146,161.3,176.1,191.9,207,223],"tickCount":15,"labels":false,"ticks":false,"domain":false,"grid":true,"gridColor":"#f6f6f8","title":null}},
"y":{"field":"v","type":"quantitative","scale":{"domain":[3515,7697],"nice":false,"zero":false},
"axis":{"orient":"right","values":[4000,6000],"tickCount":2,"labelExpr":"datum.value/1000 + ' K'","labelOverlap":false,"title":null,"ticks":false,"grid":true,"gridColor":"#f6f6f8","domainColor":"#d3d5da","domainWidth":1.5,"labelColor":"#b1b3b8","labelFontSize":10,"labelPadding":7}},
"color":{"field":"dir","type":"nominal","legend":null,"scale":{"domain":["up","down"],"range":["#c3e9d9","#fbcfcc"]}}}},
{"data":{"values":[{}]},
"layer":[
{"mark":{"type":"text","align":"left","color":"#a3a5aa","fontSize":10},"encoding":{"x":{"datum":0.27,"type":"quantitative"},"y":{"datum":6970,"type":"quantitative"},"text":{"value":"Volume SMA"}}},
{"mark":{"type":"text","align":"left","color":"#76c9a4","fontSize":10.5},"encoding":{"x":{"datum":15.8,"type":"quantitative"},"y":{"datum":6970,"type":"quantitative"},"text":{"value":"1.402 K"}}}
]}
]
}
]
}
